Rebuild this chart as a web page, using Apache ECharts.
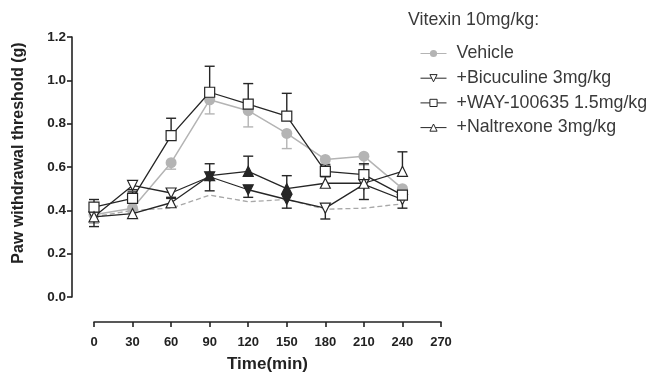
<!DOCTYPE html>
<html><head><meta charset="utf-8">
<script src="https://cdn.jsdelivr.net/npm/echarts@6/dist/echarts.min.js"></script>
<style>html,body{margin:0;padding:0;background:#fff}#c{width:654px;height:377px}</style>
</head><body><div id="c"></div>
<script>
const times = [0, 30, 60, 90, 120, 150, 180, 210, 240];
const xTicks = [0, 30, 60, 90, 120, 150, 180, 210, 240, 270];
const yTicks = [0.0, 0.2, 0.4, 0.6, 0.8, 1.0, 1.2];

const vehicle = [0.38, 0.41, 0.62, 0.91, 0.86, 0.755, 0.635, 0.65, 0.50];
const vehicleSem = [0.04, 0.02, 0.03, 0.065, 0.075, 0.07, 0.02, 0.04, 0.03];

const bicuculine = [0.37, 0.515, 0.48, 0.555, 0.495, 0.45, 0.41, 0.52, 0.45];
const bicuculineSem = [0.045, 0.02, 0.02, 0.065, 0.035, 0.04, 0.05, 0.07, 0.04];
const bicuculineSig = [false, false, false, true, true, true, false, false, false];

const way = [0.415, 0.455, 0.745, 0.945, 0.89, 0.835, 0.58, 0.565, 0.47];
const waySem = [0.035, 0.03, 0.08, 0.12, 0.095, 0.105, 0.03, 0.05, 0.03];

const naltrexone = [0.37, 0.385, 0.435, 0.56, 0.58, 0.50, 0.525, 0.525, 0.58];
const naltrexoneSem = [0.03, 0.02, 0.02, 0.055, 0.07, 0.06, 0.03, 0.03, 0.09];
const naltrexoneSig = [false, false, false, true, true, true, false, false, false];

const baseline = [0.37, 0.40, 0.41, 0.47, 0.44, 0.45, 0.405, 0.41, 0.43];

const names = ['Vehicle', '+Bicuculine 3mg/kg', '+WAY-100635 1.5mg/kg', '+Naltrexone 3mg/kg'];
const yName = 'Paw withdrawal threshold (g)';
const xName = 'Time(min)';
const legendTitle = 'Vitexin 10mg/kg:';

const DARK = '#262626', GRAY = '#b4b4b4';
const FONT = 'Liberation Sans, Arial, sans-serif';

function pts(vals, sig, fillColor) {
  return vals.map((v, i) => {
    const d = { value: [times[i], v] };
    if (sig && sig[i]) d.itemStyle = { color: fillColor };
    return d;
  });
}
function errSeries(vals, sem, dir, color) {
  return {
    type: 'custom', silent: true, z: 1,
    data: vals.map((v, i) => [times[i], v, sem[i]]),
    renderItem: function (params, api) {
      const x = api.value(0), y = api.value(1), s = api.value(2);
      const c = api.coord([x, y]);
      const top = dir >= 0 ? api.coord([x, y + s]) : c;
      const bot = dir <= 0 ? api.coord([x, y - s]) : c;
      const w = 5;
      const st = { stroke: color, lineWidth: 1.4 };
      const ch = [{ type: 'line', shape: { x1: c[0], y1: top[1], x2: c[0], y2: bot[1] }, style: st }];
      if (dir >= 0) ch.push({ type: 'line', shape: { x1: c[0] - w, y1: top[1], x2: c[0] + w, y2: top[1] }, style: st });
      if (dir <= 0) ch.push({ type: 'line', shape: { x1: c[0] - w, y1: bot[1], x2: c[0] + w, y2: bot[1] }, style: st });
      return { type: 'group', children: ch };
    }
  };
}

const chart = echarts.init(document.getElementById('c'), null, { renderer: 'canvas' });
const axisText = { color: '#222', fontFamily: FONT, fontWeight: 'bold', fontSize: 13 };
chart.setOption({
  animation: false,
  grid: { left: 94, right: 213, top: 37, bottom: 80, containLabel: false, outerBoundsMode: 'none' },
  title: {
    text: legendTitle, left: 403, top: 6,
    textStyle: { fontFamily: FONT, fontWeight: 'normal', fontSize: 17.8, color: '#3a3a3a' }
  },
  graphic: [{
    type: 'text', x: 19, y: 153, rotation: Math.PI / 2,
    style: { text: yName, fill: '#222', font: 'bold 16px ' + FONT, align: 'center', verticalAlign: 'middle' }
  }],
  legend: {
    data: names, orient: 'vertical', left: 415, top: 39, itemGap: 5.7,
    itemWidth: 26, itemHeight: 9, selectedMode: false,
    lineStyle: { width: 1 },
    itemStyle: { borderWidth: 1 },
    textStyle: { fontFamily: FONT, fontSize: 17.8, lineHeight: 19, color: '#3a3a3a', padding: [0, 0, 0, 5] }
  },
  xAxis: {
    type: 'value', min: 0, max: 270, interval: 30, offset: 25,
    name: xName, nameLocation: 'middle', nameGap: 34,
    nameTextStyle: Object.assign({}, axisText, { fontSize: 17 }),
    axisLine: { show: true, onZero: false, lineStyle: { color: '#222', width: 1.6 } },
    axisTick: { show: true, length: 5, lineStyle: { color: '#222', width: 1.6 } },
    axisLabel: Object.assign({ margin: 14, formatter: v => xTicks.includes(v) ? String(v) : '' }, axisText),
    splitLine: { show: false }
  },
  yAxis: {
    type: 'value', min: 0, max: 1.2, interval: 0.2, offset: 22,
    axisLine: { show: true, onZero: false, lineStyle: { color: '#222', width: 1.6 } },
    axisTick: { show: true, length: 5, lineStyle: { color: '#222', width: 1.6 } },
    axisLabel: Object.assign({ margin: 6, formatter: v => yTicks.find(t => Math.abs(t - v) < 1e-9) !== undefined ? v.toFixed(1) : '' }, axisText, { fontSize: 13.5 }),
    splitLine: { show: false }
  },
  series: [
    errSeries(vehicle, vehicleSem, -1, GRAY),
    errSeries(bicuculine, bicuculineSem, -1, DARK),
    errSeries(way, waySem, 1, DARK),
    errSeries(naltrexone, naltrexoneSem, 1, DARK),
    {
      type: 'line', name: 'baseline', data: baseline.map((v, i) => [times[i], v]),
      showSymbol: false, symbol: 'none', z: 2,
      lineStyle: { color: '#a8a8a8', width: 1.3, type: [5, 3] }
    },
    {
      type: 'line', name: names[0], data: pts(vehicle), z: 3,
      symbol: 'circle', symbolSize: 11,
      lineStyle: { color: GRAY, width: 1.5 },
      itemStyle: { color: GRAY, borderWidth: 0 }
    },
    {
      type: 'line', name: names[1], data: pts(bicuculine, bicuculineSig, DARK), z: 4,
      symbol: 'triangle', symbolRotate: 180, symbolSize: 10,
      lineStyle: { color: DARK, width: 1.3 },
      itemStyle: { color: '#fff', borderColor: DARK, borderWidth: 1.2 }
    },
    {
      type: 'line', name: names[2], data: pts(way), z: 4,
      symbol: 'rect', symbolSize: 10,
      lineStyle: { color: DARK, width: 1.3 },
      itemStyle: { color: '#fff', borderColor: DARK, borderWidth: 1.2 }
    },
    {
      type: 'line', name: names[3], data: pts(naltrexone, naltrexoneSig, DARK), z: 4,
      symbol: 'triangle', symbolSize: 10,
      lineStyle: { color: DARK, width: 1.3 },
      itemStyle: { color: '#fff', borderColor: DARK, borderWidth: 1.2 }
    }
  ]
});
</script>
</body></html>
